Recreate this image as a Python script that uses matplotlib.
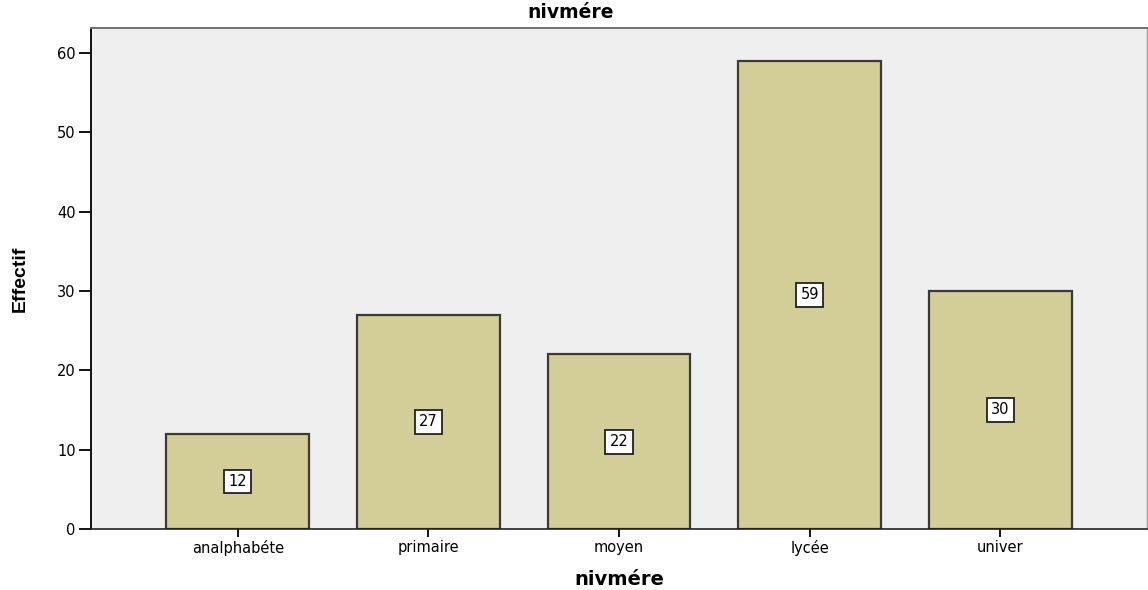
import matplotlib
matplotlib.use("Agg")
import matplotlib.pyplot as plt

categories = ["analphabéte", "primaire", "moyen", "lycée", "univer"]
counts = [12, 27, 22, 59, 30]
yticks = [0, 10, 20, 30, 40, 50, 60]

plt.rcParams["font.family"] = ["DejaVu Sans"]

fig = plt.figure(figsize=(11.48, 5.9), dpi=100)
ax = fig.add_axes([91 / 1148, 1 - 529 / 590, (1147 - 91) / 1148, (529 - 28) / 590])
ax.set_facecolor("#efefef")

x = list(range(len(categories)))
ax.bar(x, counts, width=0.75, color="#d3cd97", edgecolor="#3a3a3a", linewidth=1.6, zorder=2)

for xi, v in zip(x, counts):
    ax.text(xi, v / 2, str(v), ha="center", va="center", fontsize=10.5, zorder=3,
            bbox=dict(boxstyle="square,pad=0.3", facecolor="white", edgecolor="#222222", linewidth=1.3))

ax.set_xlim(-0.77, 4.77)
ax.set_ylim(0, 63.15)
ax.set_xticks(x)
ax.set_xticklabels(categories, fontsize=10.5)
ax.set_yticks(yticks)
ax.set_yticklabels([str(t) for t in yticks], fontsize=10.5)

ax.tick_params(axis="y", direction="out", length=9, width=1.3, pad=2)
ax.tick_params(axis="x", direction="out", length=6, width=1.3, pad=2)

ax.spines["left"].set_color("#111111")
ax.spines["left"].set_linewidth(1.4)
ax.spines["bottom"].set_color("#222222")
ax.spines["bottom"].set_linewidth(1.2)
ax.spines["top"].set_color("#707070")
ax.spines["top"].set_linewidth(1.4)
ax.spines["right"].set_color("#a0a0a0")
ax.spines["right"].set_linewidth(1.0)

ax.set_xlabel("nivmére", fontsize=14, fontweight="bold", labelpad=10)
ax.set_ylabel("Effectif", fontsize=14, fontweight="bold", labelpad=20,
              family=["Liberation Sans", "DejaVu Sans"])
fig.text(571 / 1148, 1 - 13 / 590, "nivmére", ha="center", va="center", fontsize=13.5, fontweight="bold")

fig.savefig("out.png", dpi=100)
